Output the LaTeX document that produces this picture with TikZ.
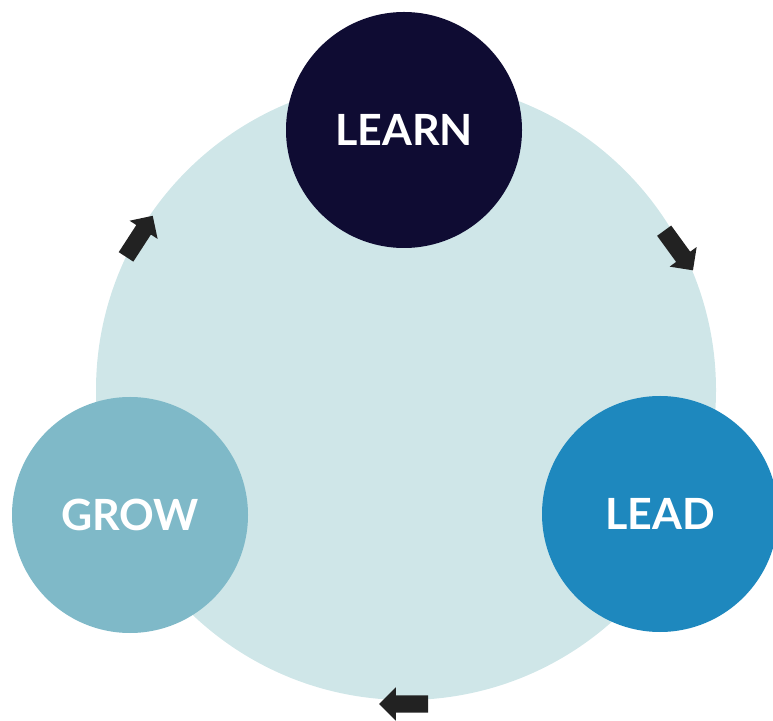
\documentclass[tikz,border=0pt]{standalone}
\usepackage{fontspec}
\setmainfont{Lato}
\usepackage{tikz}
\usetikzlibrary{shapes.arrows}
\definecolor{ringbg}{HTML}{CFE6E8}
\definecolor{learncol}{HTML}{0F0C33}
\definecolor{leadcol}{HTML}{1E88BE}
\definecolor{growcol}{HTML}{7FB9C8}
\definecolor{arrowcol}{HTML}{222222}

\begin{document}
\begin{tikzpicture}[x=1pt,y=1pt,
    stage/.style={circle, minimum size=236pt, inner sep=0pt, text=white,
        font=\fontsize{43}{43}\selectfont\bfseries},
    turn/.style={single arrow, fill=arrowcol, minimum height=49pt,
        single arrow head extend=8pt, inner xsep=0pt, inner ysep=8.5pt}
    ]
    \useasboundingbox (0,0) rectangle (773,720);
    % background ring
    \fill[ringbg] (406,330) circle (310);
    \node[stage, fill=learncol] (learn) at (404,590) {LEARN};
    \node[stage, fill=leadcol] (lead) at (660,206) {LEAD};
    \node[stage, fill=growcol] (grow) at (130,205) {GROW};
    % arrows round the cycle
    \node[turn, rotate=-54] (toLead) at (676,473) {};
    \node[turn, rotate=180] (toGrow) at (408,16) {};
    \node[turn, rotate=57] (toLearn) at (137,480) {};
\end{tikzpicture}
\end{document}
